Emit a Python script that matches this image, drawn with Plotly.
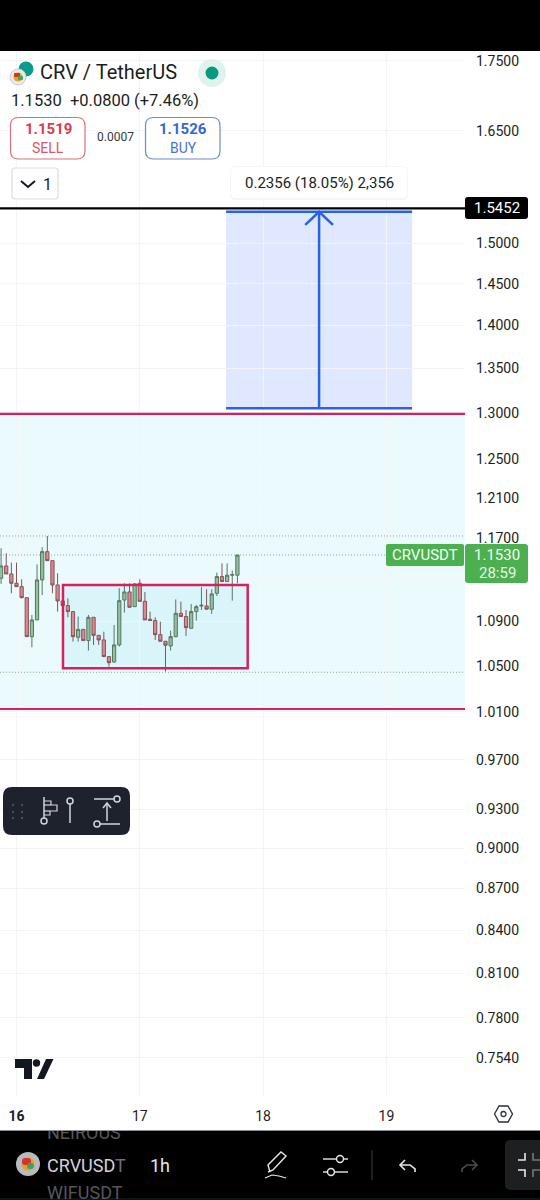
import plotly.graph_objects as go

W, H = 540, 1200

# ---- chart data ----
hours = list(range(-3, 44))
opens = [1.1306,1.1424,1.1347,1.1258,1.1226,1.1122,1.0762,1.0915,1.1290,1.1563,1.1475,1.1242,1.1091,1.1048,1.0992,1.0756,
         1.0828,1.0726,1.0939,1.0774,1.0732,1.0582,1.0534,1.0687,1.1100,1.1176,1.1038,1.1258,1.1088,1.0921,1.0909,1.0780,
         1.0720,1.0678,1.0762,1.0976,1.0946,1.0838,1.0992,1.1044,1.1044,1.1014,1.1163,1.1322,1.1274,1.1335,1.1335]
highs = [1.1596,1.1547,1.1456,1.1456,1.1296,1.1122,1.0961,1.1439,1.1606,1.1717,1.1475,1.1354,1.1163,1.1116,1.0992,1.0946,
         1.0828,1.0961,1.0939,1.0774,1.0807,1.0582,1.0868,1.1211,1.1258,1.1258,1.1258,1.1296,1.1176,1.0992,1.0939,1.0899,
         1.0720,1.0816,1.1106,1.1085,1.1007,1.1063,1.1054,1.1220,1.1201,1.1201,1.1360,1.1449,1.1449,1.1379,1.1530]
lows  = [1.1252,1.1347,1.1163,1.1226,1.1116,1.0762,1.0666,1.0915,1.1147,1.1475,1.1163,1.0992,1.0992,1.0939,1.0717,1.0717,
         1.0726,1.0636,1.0687,1.0687,1.0582,1.0493,1.0528,1.0672,1.0983,1.1032,1.1038,1.1088,1.0915,1.0909,1.0732,1.0720,
         1.0449,1.0636,1.0756,1.0946,1.0768,1.0838,1.0909,1.1007,1.1014,1.0970,1.1137,1.1274,1.1274,1.1094,1.1258]
closes= [1.1424,1.1347,1.1258,1.1226,1.1122,1.0762,1.0915,1.1290,1.1563,1.1475,1.1242,1.1091,1.1048,1.0992,1.0762,1.0828,
         1.0726,1.0939,1.0774,1.0732,1.0582,1.0528,1.0687,1.1094,1.1176,1.1032,1.1252,1.1088,1.0915,1.0909,1.0780,1.0720,
         1.0684,1.0762,1.0976,1.0946,1.0844,1.0992,1.1038,1.1051,1.1014,1.1157,1.1322,1.1274,1.1335,1.1341,1.1530]

price_ticks = [1.75,1.65,1.50,1.45,1.40,1.35,1.30,1.25,1.21,1.17,1.13,1.09,1.05,1.01,0.97,0.93,0.90,0.87,0.84,0.81,0.78,0.754]
price_labels = ["1.7500","1.6500","1.5000","1.4500","1.4000","1.3500","1.3000","1.2500","1.2100","1.1700"," ",
                "1.0900","1.0500","1.0100","0.9700","0.9300","0.9000","0.8700","0.8400","0.8100","0.7800","0.7540"]
day_ticks = [0, 24, 48, 72]
day_labels = ["<b>16</b>", "17", "18", "19"]

resistance = 1.5452
zone_top, zone_bottom = 1.2989, 1.0124
range_top, range_bottom = 1.1242, 1.0478
range_start, range_end = 9.05, 45.0
measure_low, measure_high = 1.3052, 1.5408
measure_start, measure_end = 40.8, 77.0
measure_mid = 58.9
arrow_x = [56.2, 58.9, 61.6]
arrow_y = [1.5237, 1.5408, 1.5237]
dotted_levels = [1.1717, 1.1530, 1.0443]

CHART_R = 465 / W
INK = "#131722"
CRIMSON = "#d6215f"
BLUE = "#2962e8"
TXT = "Roboto, sans-serif"


def px(x):
    return x / W


def py(y):
    return 1 - y / H


def box(x0, y0, x1, y1, r=0):
    X0, X1, Y0, Y1 = px(x0), px(x1), py(y0), py(y1)
    if r == 0:
        return f"M{X0},{Y0}L{X1},{Y0}L{X1},{Y1}L{X0},{Y1}Z"
    rx, ry = r / W, r / H
    return (f"M{X0+rx},{Y0}L{X1-rx},{Y0}Q{X1},{Y0} {X1},{Y0-ry}L{X1},{Y1+ry}Q{X1},{Y1} {X1-rx},{Y1}"
            f"L{X0+rx},{Y1}Q{X0},{Y1} {X0},{Y1+ry}L{X0},{Y0-ry}Q{X0},{Y0} {X0+rx},{Y0}Z")


def poly(points, close=False):
    s = "M" + "L".join(f"{px(a)},{py(b)}" for a, b in points)
    return s + ("Z" if close else "")


shapes = []


def ui_path(path, fill=None, line=None, width=1, layer="above"):
    shapes.append(dict(type="path", path=path, xref="paper", yref="paper", layer=layer,
                       fillcolor=fill if fill else "rgba(0,0,0,0)",
                       line=dict(color=line if line else "rgba(0,0,0,0)", width=width if line else 0)))


def ui_circle(cx, cy, r, fill=None, line=None, width=1):
    shapes.append(dict(type="circle", xref="paper", yref="paper", layer="above",
                       x0=px(cx - r), x1=px(cx + r), y0=py(cy + r), y1=py(cy - r),
                       fillcolor=fill if fill else "rgba(0,0,0,0)",
                       line=dict(color=line if line else "rgba(0,0,0,0)", width=width if line else 0)))


annotations = []


def label(x, y, s, size=14, color=INK, anchor="left", **kw):
    annotations.append(dict(text=s, x=px(x), y=py(y), xref="paper", yref="paper", xanchor=anchor, yanchor="middle",
                            showarrow=False, borderpad=0, borderwidth=0,
                            font=dict(family=TXT, size=size, color=color), **kw))


# ---- chart overlays in price / time coordinates ----
shapes += [
    dict(type="rect", xref="paper", yref="y", x0=0, x1=CHART_R, y0=zone_bottom, y1=zone_top, layer="below",
         fillcolor="rgba(0,188,212,0.08)", line=dict(width=0)),
    dict(type="rect", xref="x", yref="y", x0=measure_start, x1=measure_end, y0=measure_low, y1=measure_high, layer="below",
         fillcolor="rgba(41,98,255,0.15)", line=dict(width=0)),
    dict(type="rect", xref="x", yref="y", x0=range_start, x1=range_end, y0=range_bottom, y1=range_top, layer="below",
         fillcolor="rgba(0,188,212,0.07)", line=dict(width=0)),
]
for lv in dotted_levels:
    shapes.append(dict(type="line", xref="paper", yref="y", x0=0, x1=CHART_R, y0=lv, y1=lv, layer="below",
                       line=dict(color="#9aa3a9", width=1, dash="1px,2px")))
shapes += [
    dict(type="rect", xref="x", yref="y", x0=range_start, x1=range_end, y0=range_bottom, y1=range_top, layer="above",
         fillcolor="rgba(0,0,0,0)", line=dict(color=CRIMSON, width=2.5)),
    dict(type="line", xref="paper", yref="y", x0=0, x1=CHART_R, y0=zone_top, y1=zone_top, layer="above",
         line=dict(color=CRIMSON, width=2.2)),
    dict(type="line", xref="paper", yref="y", x0=0, x1=CHART_R, y0=zone_bottom, y1=zone_bottom, layer="above",
         line=dict(color=CRIMSON, width=2.2)),
    dict(type="line", xref="x", yref="y", x0=measure_start, x1=measure_end, y0=measure_low, y1=measure_low, layer="above",
         line=dict(color=BLUE, width=2.5)),
    dict(type="line", xref="x", yref="y", x0=measure_start, x1=measure_end, y0=measure_high, y1=measure_high, layer="above",
         line=dict(color=BLUE, width=2.5)),
    dict(type="line", xref="paper", yref="y", x0=0, x1=CHART_R, y0=resistance, y1=resistance, layer="above",
         line=dict(color="#000000", width=2.4)),
]

# ---- top / bottom phone chrome ----
ui_path(box(0, 0, 540, 51), fill="#000000")
ui_path(box(0, 1131, 540, 1200), fill="#000000", layer="below")
ui_path(box(0, 1198, 540, 1200), fill="#0c1418", layer="below")
ui_path(poly([(0, 1130.5), (540, 1130.5)]), line="#8a8d93", width=1)

# header
ui_circle(26, 69, 7.5, fill="#0a9a8c")
ui_circle(18, 77, 8, fill="#e9eaec", line="#c9ccd0")
ui_circle(18, 77, 4.5, fill="#f0a020")
ui_path(box(14, 73, 20, 77, 1), fill="#d8322e")
ui_path(box(18, 76, 23, 80, 1), fill="#40a860")
ui_circle(212, 73, 14, fill="#e0f1ee")
ui_circle(212, 73, 6.5, fill="#089981")
label(40, 72, "CRV / TetherUS", 20, "#1a1d24")
label(11, 100, "1.1530&nbsp;&nbsp;+0.0800 (+7.46%)", 16.5, "#1a1d24")
ui_path(box(10.5, 117.5, 85, 159, 8), fill="#ffffff", line="#d9707e", width=1.2)
ui_path(box(145.5, 117.5, 220, 159, 8), fill="#ffffff", line="#6c8ccc", width=1.2)
label(48, 129, "<b>1.1519</b>", 15, "#dd3b4f", "center")
label(48, 148, "SELL", 14, "#d9566a", "center")
label(115, 137, "0.0007", 12, "#333840", "center")
label(183, 129, "<b>1.1526</b>", 15, "#3566d6", "center")
label(183, 148, "BUY", 14, "#4a72cc", "center")
ui_path(box(12, 168, 58, 199, 3), fill="#ffffff", line="#dcdde0", width=1.2)
ui_path(poly([(21, 181), (28, 187), (35, 181)]), line="#131722", width=2)
label(43, 184, "1", 16, "#1a1d24")

# measure tooltip and price tags
ui_path(box(230, 166, 408, 200, 6), fill="#f4f5f6")
ui_path(box(231, 167, 407, 198, 5), fill="#ffffff")
label(319, 183, "0.2356 (18.05%) 2,356", 15, "#1a1d24", "center")
ui_path(box(465, 197, 528, 219, 3), fill="#000000")
label(497, 208, "1.5452", 15, "#ffffff", "center")
ui_path(box(386, 544, 464, 566, 2), fill="#4caf50")
label(425, 555, "CRVUSDT", 15, "#f2fff3", "center")
ui_path(box(465, 544, 528, 583, 3), fill="#4caf50")
label(497, 555, "1.1530", 15, "#f2fff3", "center")
label(497, 573, "28:59", 15, "#e6f7e7", "center")

# floating drawing toolbar
ui_path(box(3, 787, 130, 835, 9), fill="#1e222d")
for gx in (13, 22):
    for gy in (805, 812, 818):
        ui_circle(gx, gy, 1.2, fill="#4a4f5a")
TB = "#d1d4dc"
ui_path(poly([(44, 797), (44, 818)]), line=TB, width=1.5)
ui_path(poly([(44, 801), (51, 801), (51, 805), (57, 805), (57, 811), (50, 811), (50, 815), (44, 815)]), line=TB, width=1.2)
ui_path(poly([(44, 805), (51, 805)]), line=TB, width=1.2)
ui_path(poly([(44, 811), (50, 811)]), line=TB, width=1.2)
ui_circle(44, 821, 3, line=TB, width=1.5)
ui_circle(70, 801, 3, line=TB, width=1.5)
ui_path(poly([(70, 804), (70, 823)]), line=TB, width=1.5)
ui_path(poly([(94, 799), (114, 799)]), line=TB, width=1.5)
ui_circle(117, 799, 3, line=TB, width=1.5)
ui_path(poly([(100, 824), (120, 824)]), line=TB, width=1.5)
ui_circle(97, 824, 3, line=TB, width=1.5)
ui_path(poly([(107, 804), (107, 821)]), line=TB, width=1.5)
ui_path(poly([(103, 808), (107, 803), (111, 808)]), line=TB, width=1.5)

# TradingView mark
ui_path(poly([(15, 1059), (32, 1059), (32, 1079), (24, 1079), (24, 1068), (15, 1068)], True), fill=INK)
ui_circle(36.5, 1063, 3.7, fill=INK)
ui_path(poly([(46, 1059), (53.5, 1059), (44, 1079), (37, 1079)], True), fill=INK)

# settings hexagon
ui_path(poly([(494.5, 1114), (499, 1106), (508, 1106), (512.5, 1114), (508, 1122), (499, 1122)], True),
        line="#2a2e39", width=1.3)
ui_circle(503.5, 1114, 2.5, line="#2a2e39", width=1.3)

# bottom bar icons
ui_circle(28, 1164, 12, fill="#b8babd")
ui_circle(28, 1164, 6.5, fill="#e9a020")
ui_path(box(22, 1158, 31, 1165, 3), fill="#d8322e")
ui_path(box(27, 1163, 34, 1169, 3), fill="#3fa25c")
WH = "#e8e8e8"
ui_path(poly([(270, 1172), (268, 1165), (281, 1152), (286, 1156), (273, 1170), (268, 1172)]), line=WH, width=1.4)
ui_path(poly([(265, 1178), (272, 1175), (279, 1176), (286, 1178)]), line=WH, width=1.2)
ui_path(poly([(323, 1159), (336, 1159)]), line=WH, width=1.4)
ui_circle(340, 1159, 3.5, line=WH, width=1.4)
ui_path(poly([(344, 1159), (348, 1159)]), line=WH, width=1.4)
ui_path(poly([(323, 1172), (327, 1172)]), line=WH, width=1.4)
ui_circle(331, 1172, 3.5, line=WH, width=1.4)
ui_path(poly([(335, 1172), (348, 1172)]), line=WH, width=1.4)
ui_path(poly([(372, 1150), (372, 1180)]), line="#333539", width=1.2)
ui_path(poly([(405, 1160), (400, 1165), (405, 1170)]), line=WH, width=1.6)
ui_path(poly([(400, 1165), (410, 1165), (415, 1169), (415, 1172)]), line=WH, width=1.6)
ui_path(poly([(472, 1160), (477, 1165), (472, 1170)]), line="#4c4e52", width=1.6)
ui_path(poly([(477, 1165), (467, 1165), (462, 1169), (462, 1172)]), line="#4c4e52", width=1.6)
ui_path(box(505, 1140, 548, 1190, 6), fill="#1e1f21")
ui_path(poly([(518, 1160), (525, 1160), (525, 1153)]), line=WH, width=1.6)
ui_path(poly([(518, 1170), (525, 1170), (525, 1177)]), line=WH, width=1.6)
ui_path(poly([(533, 1153), (533, 1160), (540, 1160)]), line="#777", width=1.6)
ui_path(poly([(533, 1177), (533, 1170), (540, 1170)]), line="#777", width=1.6)

label(47, 1165, 'CRVUSD<span style="color:#6d6f73">T</span>', 18, "#d3d4d6")
label(150, 1165, "1h", 18, "#e8e8e8")

fig = go.Figure()
fig.add_trace(go.Candlestick(
    x=hours, open=opens, high=highs, low=lows, close=closes, hoverinfo="skip", whiskerwidth=0,
    increasing=dict(fillcolor="#8fc19b", line=dict(color="#5a7562", width=1)),
    decreasing=dict(fillcolor="#e4848f", line=dict(color="#7c565c", width=1)),
))
fig.add_trace(go.Scatter(x=[measure_mid, measure_mid], y=[measure_low, measure_high], mode="lines",
                         line=dict(color=BLUE, width=2.5), hoverinfo="skip"))
fig.add_trace(go.Scatter(x=arrow_x, y=arrow_y, mode="lines",
                         line=dict(color=BLUE, width=2.5), hoverinfo="skip"))
# symbol list scrolling behind the bottom bar, clipped by its own hidden strip
fig.add_trace(go.Scatter(x=[47, 47], y=[1134, 1194], text=["NEIROUS", "WIFUSDT"], mode="text",
                         textposition="middle right", cliponaxis=True, hoverinfo="skip",
                         textfont=dict(family=TXT, size=18, color="#55575b"), xaxis="x2", yaxis="y2"))

fig.update_layout(
    width=W, height=H, margin=dict(l=0, r=0, t=0, b=0), paper_bgcolor="#ffffff", plot_bgcolor="rgba(0,0,0,0)",
    showlegend=False, shapes=shapes, annotations=annotations, boxgap=0.1,
    xaxis=dict(domain=[0, CHART_R], range=[-3.21, 87.3], tickmode="array", tickvals=day_ticks, ticktext=day_labels,
               showgrid=True, gridcolor="#f3f4f6", gridwidth=1, zeroline=False, showline=False, ticks="",
               rangeslider=dict(visible=False), fixedrange=True, ticklabelstandoff=9,
               tickfont=dict(family=TXT, size=14, color="#1a1d24")),
    yaxis=dict(domain=[py(1097), py(51)], type="log", range=[-0.13697, 0.2467], side="right", anchor="x",
               tickmode="array", tickvals=price_ticks, ticktext=price_labels, showgrid=True, gridcolor="#f3f4f6",
               gridwidth=1, zeroline=False, showline=False, ticks="", fixedrange=True, ticklabelstandoff=10,
               tickfont=dict(family=TXT, size=14, color="#1a1d24")),
    xaxis2=dict(domain=[0, 125 / W], range=[0, 125], visible=False, fixedrange=True, anchor="y2"),
    yaxis2=dict(domain=[py(1200), py(1131)], range=[1200, 1131], visible=False, fixedrange=True, anchor="x2"),
)

fig.write_html("out.html", config=dict(displayModeBar=False),
               post_script="document.body.style.margin='0';document.body.style.overflow='hidden';")
